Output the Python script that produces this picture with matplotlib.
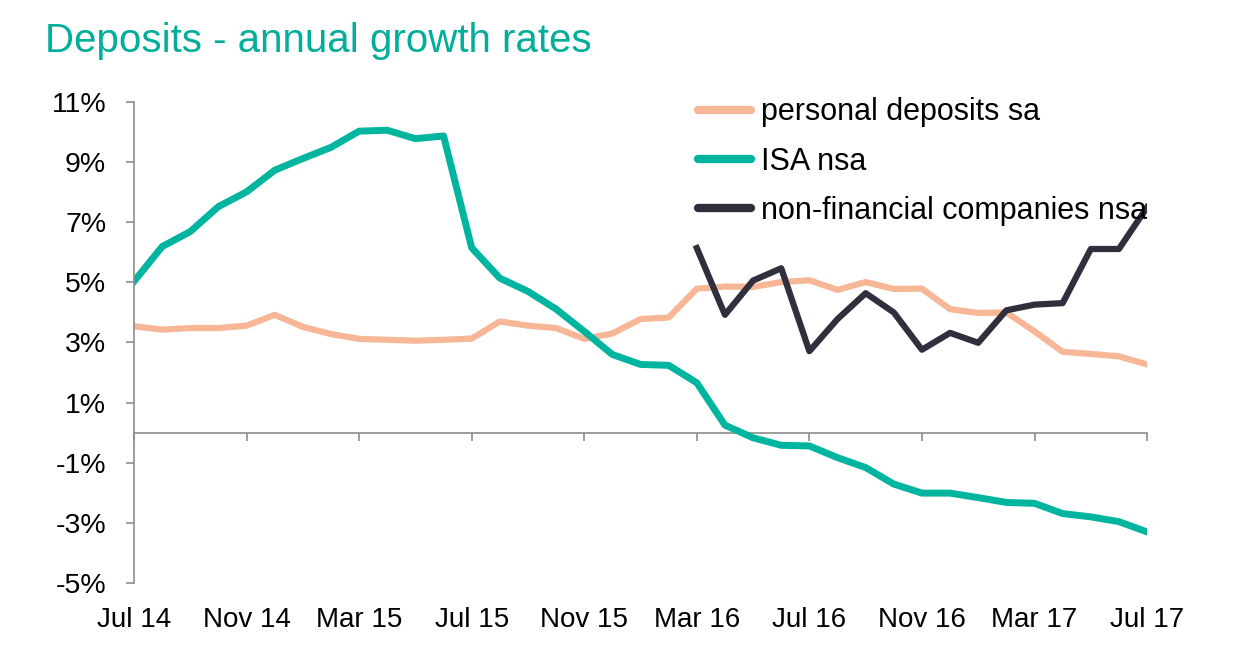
import numpy as np
import matplotlib
matplotlib.use('Agg')
import matplotlib.pyplot as plt

plt.rcParams['font.family'] = ['Liberation Sans', 'DejaVu Sans']

# Monthly data, Jul 14 .. Jul 17
months = ['Jul 14', 'Aug 14', 'Sep 14', 'Oct 14', 'Nov 14', 'Dec 14',
          'Jan 15', 'Feb 15', 'Mar 15', 'Apr 15', 'May 15', 'Jun 15',
          'Jul 15', 'Aug 15', 'Sep 15', 'Oct 15', 'Nov 15', 'Dec 15',
          'Jan 16', 'Feb 16', 'Mar 16', 'Apr 16', 'May 16', 'Jun 16',
          'Jul 16', 'Aug 16', 'Sep 16', 'Oct 16', 'Nov 16', 'Dec 16',
          'Jan 17', 'Feb 17', 'Mar 17', 'Apr 17', 'May 17', 'Jun 17',
          'Jul 17']

personal = [3.54, 3.43, 3.48, 3.48, 3.56, 3.92, 3.52, 3.28, 3.12, 3.09,
            3.06, 3.09, 3.13, 3.70, 3.56, 3.48, 3.12, 3.30, 3.78, 3.83,
            4.79, 4.86, 4.85, 5.01, 5.07, 4.75, 5.01, 4.78, 4.79, 4.11,
            3.98, 4.00, 3.37, 2.69, 2.62, 2.54, 2.27]

isa = [5.03, 6.19, 6.69, 7.52, 8.01, 8.73, 9.12, 9.49, 10.03, 10.06,
       9.78, 9.87, 6.15, 5.14, 4.70, 4.11, 3.37, 2.60, 2.27, 2.24,
       1.66, 0.25, -0.17, -0.42, -0.44, -0.83, -1.16, -1.71, -2.01, -2.01,
       -2.16, -2.32, -2.35, -2.69, -2.80, -2.96, -3.30]

# non-financial companies only from Mar 16
nfc_start = 20
nfc = [6.14, 3.92, 5.06, 5.47, 2.71, 3.78, 4.64, 4.00, 2.76, 3.32,
       2.99, 4.07, 4.26, 4.31, 6.11, 6.11, 7.50]

x = np.arange(len(months))
x_nfc = np.arange(nfc_start, nfc_start + len(nfc))

c_personal = '#f7b797'
c_isa = '#00b5a0'
c_nfc = '#302f3d'
c_axis = '#8c8c8c'

fig = plt.figure(figsize=(12.35, 6.61), dpi=100)
ax = fig.add_axes([0.1085, 0.1180, 0.8203, 0.7277])

ax.plot(x, personal, color=c_personal, lw=4.5, label='personal deposits sa')
ax.plot(x, isa, color=c_isa, lw=5, label='ISA nsa')
ax.plot(x_nfc, nfc, color=c_nfc, lw=4.5, label='non-financial companies nsa')

ax.set_xlim(0, 36)
ax.set_ylim(-5, 11)
ax.set_yticks(np.arange(-5, 12, 2))
ax.set_yticklabels([f'{v}%' for v in range(-5, 12, 2)])

ax.spines['top'].set_visible(False)
ax.spines['right'].set_visible(False)
ax.spines['bottom'].set_visible(False)
ax.spines['left'].set_color(c_axis)
ax.spines['left'].set_linewidth(1.2)

ax.tick_params(axis='y', length=6, width=1.2, color=c_axis, pad=14, labelsize=20.5)
ax.set_xticks(x[::4])
ax.set_xticklabels(months[::4])
ax.tick_params(axis='x', length=0, pad=17, labelsize=20)

# zero line with tick marks hanging down
zero_pos = (0 - (-5)) / (11 - (-5))
sec = ax.secondary_xaxis(zero_pos)
sec.set_xticks(x[::4])
sec.set_xticklabels([])
sec.spines['bottom'].set_color(c_axis)
sec.spines['bottom'].set_linewidth(1.2)
sec.tick_params(axis='x', length=6, width=1.2, color=c_axis, direction='out')

leg = ax.legend(loc='upper left', bbox_to_anchor=(0.5652, 0.8525),
                bbox_transform=fig.transFigure, frameon=False, fontsize=22,
                handlelength=1.75, handletextpad=0.3, labelspacing=0.63,
                borderpad=0, borderaxespad=0)
for h in leg.get_lines():
    h.set_linewidth(6)
    h.set_solid_capstyle('round')

fig.text(0.0365, 0.921, 'Deposits - annual growth rates', color='#00ae9a',
         fontsize=29, ha='left', va='baseline')

fig.savefig('out.png', dpi=100)
